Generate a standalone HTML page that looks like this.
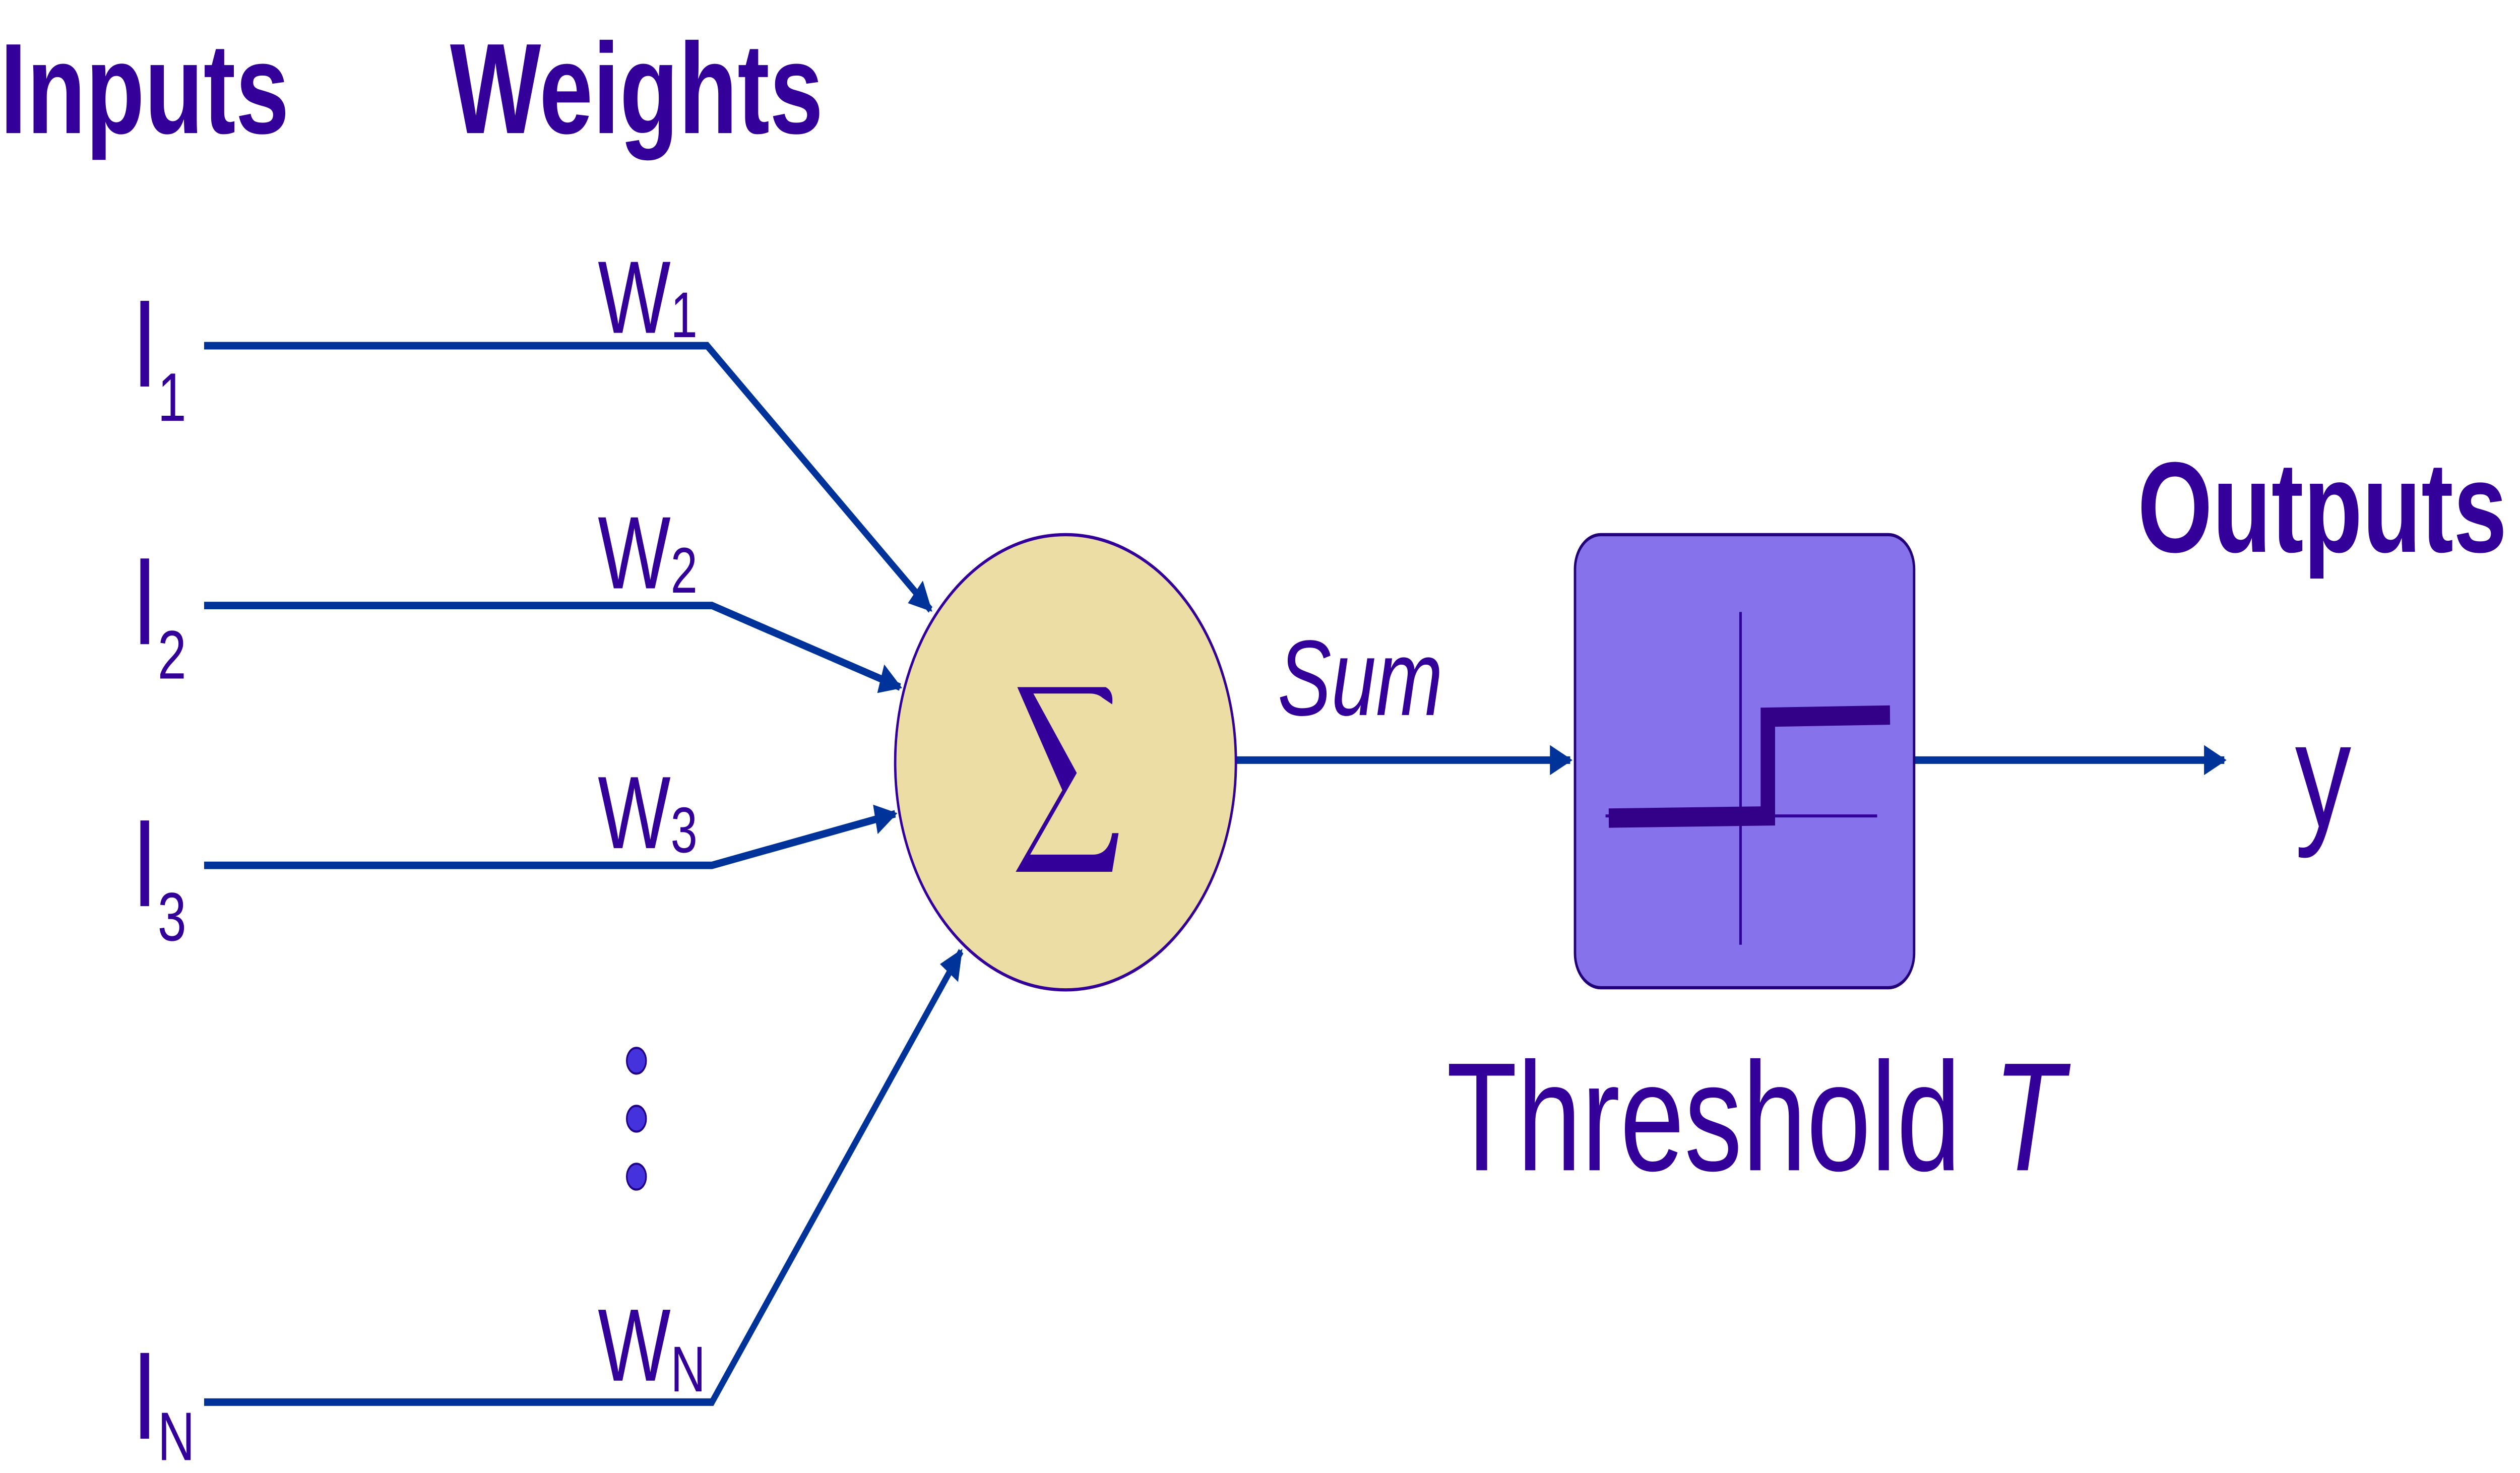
<!DOCTYPE html>
<html><head><meta charset="utf-8"><style>
html,body{margin:0;padding:0;background:#fff;overflow:hidden;width:100vw;height:100vh;}
svg{display:block;width:100vw;height:100vh;}
text{font-family:"Liberation Sans","DejaVu Sans",sans-serif;fill:#330099;}
</style></head><body>
<svg viewBox="0 0 1568 686" preserveAspectRatio="none">
<defs>
<marker id="ah" viewBox="0 0 10 10" refX="9" refY="5" markerWidth="5" markerHeight="4" orient="auto" markerUnits="strokeWidth">
<path d="M0,0 L10,5 L0,10 z" fill="#003399"/></marker>
</defs>
<text x="0" y="62" font-size="60" font-weight="bold">Inputs</text>
<text x="280" y="62" font-size="60" font-weight="bold">Weights</text>
<text x="1330" y="257" font-size="60" font-weight="bold">Outputs</text>

<g stroke="#003399" stroke-width="3.5" fill="none">
<polyline points="127,161 440,161 579,284" marker-end="url(#ah)"/>
<polyline points="127,282 443,282 560,320" marker-end="url(#ah)"/>
<polyline points="127,403 443,403 557,379" marker-end="url(#ah)"/>
<polyline points="127,653 443,653 598,443" marker-end="url(#ah)"/>
<line x1="769" y1="354" x2="977" y2="354" marker-end="url(#ah)"/>
<line x1="1191" y1="354" x2="1384" y2="354" marker-end="url(#ah)"/>
</g>

<g font-size="58">
<text x="82" y="180">I<tspan font-size="32" dy="16">1</tspan></text>
<text x="82" y="300">I<tspan font-size="32" dy="16">2</tspan></text>
<text x="82" y="422">I<tspan font-size="32" dy="16">3</tspan></text>
<text x="82" y="670">I<tspan font-size="32" dy="10">N</tspan></text>
</g>
<g font-size="48">
<text x="372" y="155">W<tspan font-size="30" dy="2">1</tspan></text>
<text x="372" y="274">W<tspan font-size="30" dy="2">2</tspan></text>
<text x="372" y="395">W<tspan font-size="30" dy="2">3</tspan></text>
<text x="372" y="643">W<tspan font-size="30" dy="5">N</tspan></text>
</g>
<g fill="#4433dd" stroke="#220088" stroke-width="1">
<circle cx="396" cy="494" r="6"/><circle cx="396" cy="521" r="6"/><circle cx="396" cy="548" r="6"/>
</g>

<circle cx="663" cy="355" r="106" fill="#ecdda5" stroke="#330099" stroke-width="1.5"/>
<path d="M633,320 L688,320 Q693,322 692,328 L686,325 Q683,323 678,323 L643,323 L670,360 L641,398 L680,398 Q690,398 692,388 L696,388 L692,406 L632,406 L661,368 Z" fill="#330099"/>
<text x="795" y="333" font-size="50" font-style="italic">Sum</text>

<rect x="980" y="249" width="211" height="211" rx="16" fill="#8673ec" stroke="#220077" stroke-width="1.5"/>
<g>
<line x1="1083" y1="285" x2="1083" y2="440" stroke="#330099" stroke-width="1.6"/>
<line x1="999" y1="380" x2="1168" y2="380" stroke="#330099" stroke-width="1.4"/>
<polyline points="1001,381 1100,380 1100,334 1176,333" fill="none" stroke="#330088" stroke-width="9"/>
</g>
<text x="900" y="545" font-size="72">Threshold <tspan font-style="italic">T</tspan></text>
<text x="1428" y="385" font-size="70">y</text>
</svg>
</body></html>
